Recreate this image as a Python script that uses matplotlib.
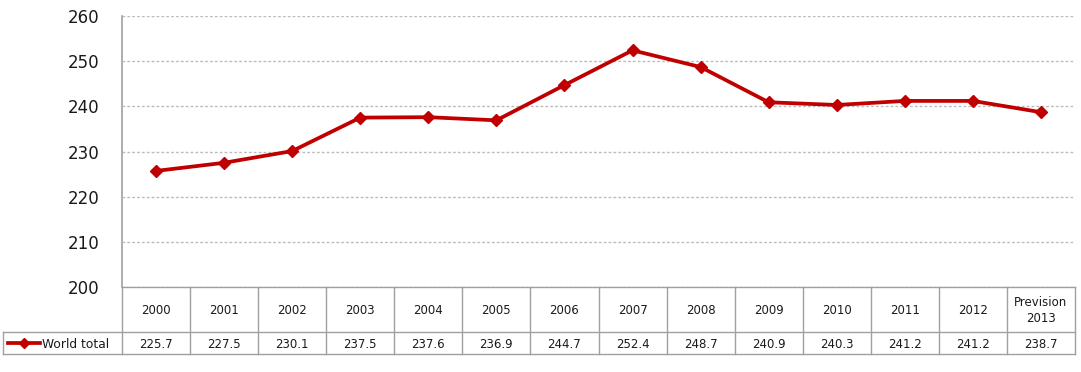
import matplotlib.pyplot as plt

# data
years = ['2000', '2001', '2002', '2003', '2004', '2005', '2006', '2007',
         '2008', '2009', '2010', '2011', '2012', 'Prevision\n2013']
world_total = [225.7, 227.5, 230.1, 237.5, 237.6, 236.9, 244.7, 252.4,
               248.7, 240.9, 240.3, 241.2, 241.2, 238.7]
series_name = 'World total'
y_ticks = [200, 210, 220, 230, 240, 250, 260]

W, H = 1081, 372
red = '#C00000'
edge = '#A0A0A0'
txt = '#1A1A1A'
plt.rcParams['font.family'] = ['DejaVu Sans']

fig = plt.figure(figsize=(W / 100, H / 100), dpi=100)

# plot area (pixel coords -> figure fractions)
x0, x1, y_top, y_bot = 122, 1075, 16, 287
ax = fig.add_axes([x0 / W, 1 - y_bot / H, (x1 - x0) / W, (y_bot - y_top) / H])
n = len(years)
xs = list(range(n))
ax.plot(xs, world_total, color=red, lw=2.7, marker='D', ms=6,
        markeredgecolor=red, zorder=3)
ax.set_xlim(-0.5, n - 0.5)
ax.set_ylim(200, 260)
ax.set_yticks(y_ticks)
ax.set_xticks([])
ax.tick_params(axis='y', length=0, pad=16, labelsize=12, labelcolor=txt)
ax.grid(axis='y', linestyle=(0, (2, 1.5)), color='#BDBDBD', lw=1)
for s in ['top', 'right', 'bottom']:
    ax.spines[s].set_visible(False)
ax.spines['left'].set_color(edge)
ax.spines['left'].set_linewidth(1.2)

# data table below the chart, drawn in pixel coordinates
tx0, y_mid, ty_bot = 3, 332, 354
tab = fig.add_axes([0, 0, 1, 1], facecolor='none')
tab.set_xlim(0, W)
tab.set_ylim(H, 0)
tab.axis('off')
col_w = (x1 - x0) / n
lk = dict(color=edge, lw=1.0)
tab.plot([x0, x1], [y_bot, y_bot], **lk)
tab.plot([tx0, x1], [y_mid, y_mid], **lk)
tab.plot([tx0, x1], [ty_bot, ty_bot], **lk)
tab.plot([tx0, tx0], [y_mid, ty_bot], **lk)
for i in range(n + 1):
    xe = x0 + i * col_w
    tab.plot([xe, xe], [y_bot, ty_bot], **lk)
for i, (yr, v) in enumerate(zip(years, world_total)):
    xc = x0 + (i + 0.5) * col_w
    tab.text(xc, (y_bot + y_mid) / 2 + 1, yr, ha='center', va='center',
             fontsize=8.5, color=txt, linespacing=1.4)
    tab.text(xc, (y_mid + ty_bot) / 2 + 1, f'{v:.1f}', ha='center', va='center',
             fontsize=8.5, color=txt)

# legend key inside row label cell
ly = (y_mid + ty_bot) / 2
tab.plot([8, 40], [ly, ly], color=red, lw=2.7)
tab.plot([24], [ly], color=red, marker='D', ms=5.5)
tab.text(42, ly + 1, series_name, fontsize=8.8, color=txt,
         va='center', ha='left')

fig.savefig('out.png', dpi=100)
